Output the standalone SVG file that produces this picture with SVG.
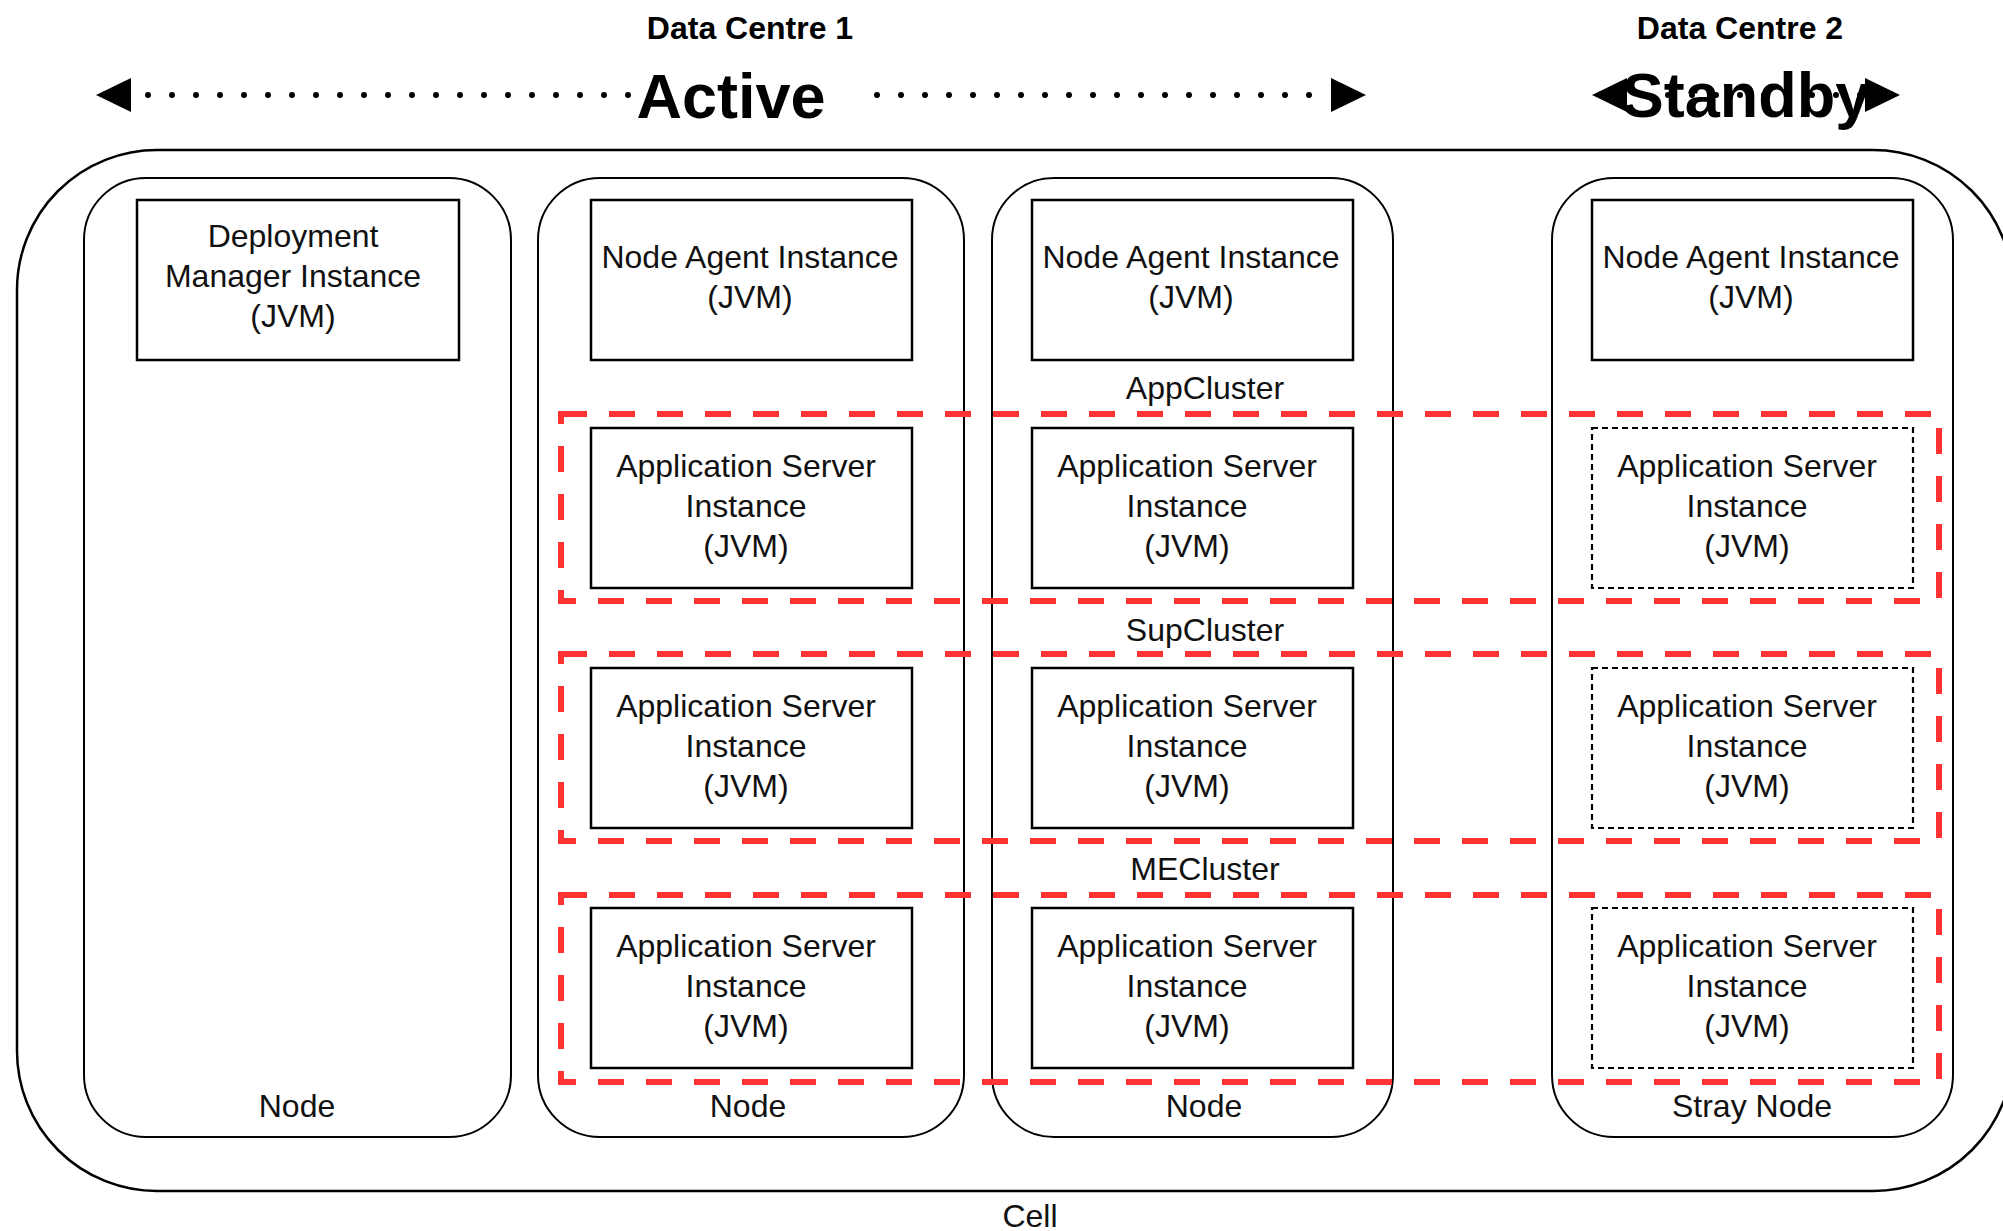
<svg xmlns="http://www.w3.org/2000/svg" width="2003" height="1231" viewBox="0 0 2003 1231">
<style>
.t{font-family:"Liberation Sans",Arial,Helvetica,sans-serif;font-size:32px;fill:#111;text-anchor:middle}
.b{font-weight:bold;fill:#000}
.big{font-size:63px}
.cell{fill:#fff;stroke:#000;stroke-width:2.5}
.node{fill:#fff;stroke:#000;stroke-width:2}
.box{fill:#fff;stroke:#000;stroke-width:2.5}
.sbox{fill:#fff;stroke:#000;stroke-width:2.2;stroke-dasharray:6 4}
.cluster{fill:none;stroke:#ff3333;stroke-width:6;stroke-dasharray:26 22}
.dots{stroke:#000;stroke-width:6;stroke-linecap:round;stroke-dasharray:0 24}
.head{fill:#000}
</style>

<g id="cell">
<rect class="cell" x="17" y="150" width="1996" height="1041" rx="140" ry="140"/>
<text class="t" x="1030" y="1227">Cell</text>
</g>

<g id="node-dm">
<rect class="node" x="84" y="178" width="427" height="959" rx="62" ry="62"/>
<text class="t" x="297" y="1117">Node</text>
</g>
<g id="node-2">
<rect class="node" x="538" y="178" width="426" height="959" rx="62" ry="62"/>
<text class="t" x="748" y="1117">Node</text>
</g>
<g id="node-3">
<rect class="node" x="992" y="178" width="401" height="959" rx="62" ry="62"/>
<text class="t" x="1204" y="1117">Node</text>
</g>
<g id="node-stray">
<rect class="node" x="1552" y="178" width="401" height="959" rx="62" ry="62"/>
<text class="t" x="1752" y="1117">Stray Node</text>
</g>

<g id="dm">
<rect class="box" x="137" y="200" width="322" height="160"/>
<text class="t"><tspan x="293" y="247">Deployment</tspan><tspan x="293" y="287">Manager Instance</tspan><tspan x="293" y="327">(JVM)</tspan></text>
</g>

<g id="na-2">
<rect class="box" x="591" y="200" width="321" height="160"/>
<text class="t"><tspan x="750" y="268">Node Agent Instance</tspan><tspan x="750" y="308">(JVM)</tspan></text>
</g>
<g id="na-3">
<rect class="box" x="1032" y="200" width="321" height="160"/>
<text class="t"><tspan x="1191" y="268">Node Agent Instance</tspan><tspan x="1191" y="308">(JVM)</tspan></text>
</g>
<g id="na-4">
<rect class="box" x="1592" y="200" width="321" height="160"/>
<text class="t"><tspan x="1751" y="268">Node Agent Instance</tspan><tspan x="1751" y="308">(JVM)</tspan></text>
</g>

<g id="as-2-1">
<rect class="box" x="591" y="428" width="321" height="160"/>
<text class="t"><tspan x="746" y="477">Application Server</tspan><tspan x="746" y="517">Instance</tspan><tspan x="746" y="557">(JVM)</tspan></text>
</g>
<g id="as-3-1">
<rect class="box" x="1032" y="428" width="321" height="160"/>
<text class="t"><tspan x="1187" y="477">Application Server</tspan><tspan x="1187" y="517">Instance</tspan><tspan x="1187" y="557">(JVM)</tspan></text>
</g>
<g id="as-4-1">
<rect class="sbox" x="1592" y="428" width="321" height="160"/>
<text class="t"><tspan x="1747" y="477">Application Server</tspan><tspan x="1747" y="517">Instance</tspan><tspan x="1747" y="557">(JVM)</tspan></text>
</g>

<g id="as-2-2">
<rect class="box" x="591" y="668" width="321" height="160"/>
<text class="t"><tspan x="746" y="717">Application Server</tspan><tspan x="746" y="757">Instance</tspan><tspan x="746" y="797">(JVM)</tspan></text>
</g>
<g id="as-3-2">
<rect class="box" x="1032" y="668" width="321" height="160"/>
<text class="t"><tspan x="1187" y="717">Application Server</tspan><tspan x="1187" y="757">Instance</tspan><tspan x="1187" y="797">(JVM)</tspan></text>
</g>
<g id="as-4-2">
<rect class="sbox" x="1592" y="668" width="321" height="160"/>
<text class="t"><tspan x="1747" y="717">Application Server</tspan><tspan x="1747" y="757">Instance</tspan><tspan x="1747" y="797">(JVM)</tspan></text>
</g>

<g id="as-2-3">
<rect class="box" x="591" y="908" width="321" height="160"/>
<text class="t"><tspan x="746" y="957">Application Server</tspan><tspan x="746" y="997">Instance</tspan><tspan x="746" y="1037">(JVM)</tspan></text>
</g>
<g id="as-3-3">
<rect class="box" x="1032" y="908" width="321" height="160"/>
<text class="t"><tspan x="1187" y="957">Application Server</tspan><tspan x="1187" y="997">Instance</tspan><tspan x="1187" y="1037">(JVM)</tspan></text>
</g>
<g id="as-4-3">
<rect class="sbox" x="1592" y="908" width="321" height="160"/>
<text class="t"><tspan x="1747" y="957">Application Server</tspan><tspan x="1747" y="997">Instance</tspan><tspan x="1747" y="1037">(JVM)</tspan></text>
</g>

<g id="app-cluster">
<rect class="cluster" x="561" y="414" width="1378" height="187"/>
<text class="t" x="1205" y="399">AppCluster</text>
</g>
<g id="sup-cluster">
<rect class="cluster" x="561" y="654" width="1378" height="187"/>
<text class="t" x="1205" y="641">SupCluster</text>
</g>
<g id="me-cluster">
<rect class="cluster" x="561" y="895" width="1378" height="187"/>
<text class="t" x="1205" y="880">MECluster</text>
</g>

<g id="dc1">
<text class="t b" x="750" y="39">Data Centre 1</text>
</g>
<g id="dc2">
<text class="t b" x="1740" y="39">Data Centre 2</text>
</g>

<g id="connectors">
<g id="active-arrow">
<line class="dots" x1="148" y1="95" x2="628.5" y2="95"/>
<line class="dots" x1="877" y1="95" x2="1309.5" y2="95"/>
<polygon class="head" points="96,95 131,78 131,112"/>
<polygon class="head" points="1366,95 1331,78 1331,112"/>
<text class="t b big" x="731" y="118">Active</text>
</g>
<g id="standby-arrow">
<line class="dots" x1="1644" y1="95" x2="1860.5" y2="95"/>
<polygon class="head" points="1592,95 1627,78 1627,112"/>
<polygon class="head" points="1900,95 1865,78 1865,112"/>
<text class="t b big" x="1746" y="117">Standby</text>
</g>
</g>
</svg>
